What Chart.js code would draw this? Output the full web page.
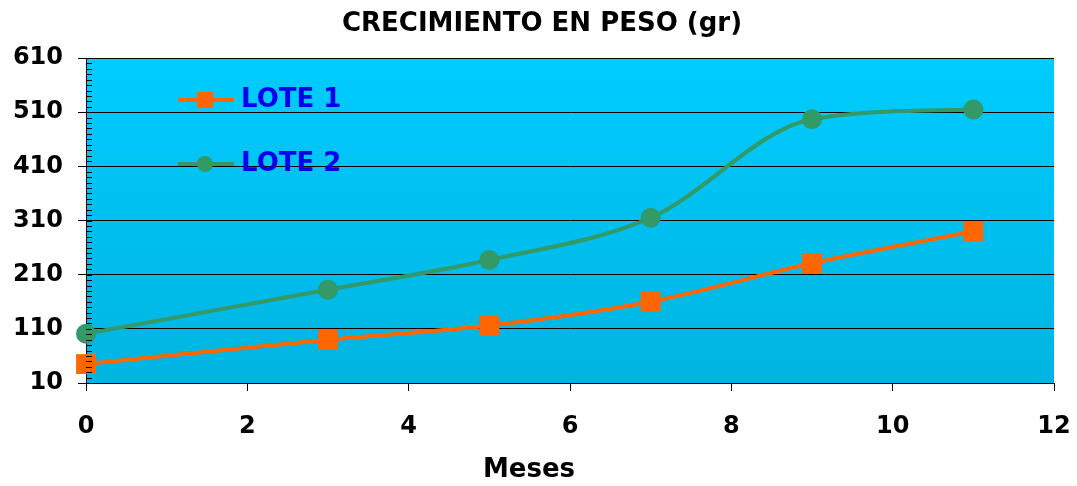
<!DOCTYPE html>
<html>
<head>
<meta charset="utf-8">
<title>Crecimiento en peso</title>
<script src="https://cdn.jsdelivr.net/npm/chart.js@4.4.1/dist/chart.umd.min.js"></script>
<style>
  html, body { margin: 0; padding: 0; background: #fff; }
  canvas { display: block; }
</style>
</head>
<body>
<canvas id="pesoChart" width="1077" height="486"></canvas>
<script>
const meses = [0, 3, 5, 7, 9, 11];
const lote1 = [45, 90, 116, 160, 231, 290];
const lote2 = [101, 182, 237, 315, 497, 515];
const yTicks = [10, 110, 210, 310, 410, 510, 610];
const xTicks = [0, 2, 4, 6, 8, 10, 12];
const chartTitle = 'CRECIMIENTO EN PESO (gr)';
const xTitle = 'Meses';

const FONT = 'DejaVu Sans, Verdana, sans-serif';

function toPoints(xs, ys) {
  return xs.map((x, i) => ({ x, y: ys[i] }));
}

// sky-blue gradient behind the plot
const plotBackground = {
  id: 'plotBackground',
  beforeDraw(chart) {
    const { ctx, chartArea: a } = chart;
    const g = ctx.createLinearGradient(0, a.top, 0, a.bottom);
    g.addColorStop(0, '#00ccff');
    g.addColorStop(1, '#00b4e0');
    ctx.save();
    ctx.fillStyle = g;
    ctx.fillRect(a.left, a.top, a.right - a.left, a.bottom - a.top);
    ctx.restore();
  }
};

// small inside ticks every 10 units on the value axis
const minorTicks = {
  id: 'minorTicks',
  afterDraw(chart) {
    const y = chart.scales.y;
    const { ctx } = chart;
    ctx.save();
    ctx.strokeStyle = '#000';
    ctx.lineWidth = 1;
    ctx.beginPath();
    for (let v = y.min; v <= y.max; v += 10) {
      const py = Math.round(y.getPixelForValue(v)) + 0.5;
      ctx.moveTo(y.right, py);
      ctx.lineTo(y.right + 6, py);
    }
    ctx.stroke();
    ctx.restore();
  }
};

// chart title and axis title, placed where the original had them
const chartTexts = {
  id: 'chartTexts',
  afterDraw(chart) {
    const { ctx } = chart;
    ctx.save();
    ctx.fillStyle = '#000';
    ctx.textAlign = 'center';
    ctx.textBaseline = 'middle';
    ctx.font = 'bold 26px ' + FONT;
    ctx.fillText(chartTitle, 542, 24);
    ctx.fillText(xTitle, 529, 470);
    ctx.restore();
  }
};

// legend inside the plot area, like the original
const innerLegend = {
  id: 'innerLegend',
  afterDatasetsDraw(chart) {
    const { ctx } = chart;
    const rows = [100, 164];
    ctx.save();
    chart.data.datasets.forEach((ds, i) => {
      const cy = rows[i];
      ctx.strokeStyle = ds.borderColor;
      ctx.lineWidth = 4;
      ctx.beginPath();
      ctx.moveTo(178, cy);
      ctx.lineTo(234, cy);
      ctx.stroke();
      ctx.fillStyle = ds.pointBackgroundColor;
      ctx.strokeStyle = ds.pointBackgroundColor;
      Chart.helpers.drawPoint(ctx, {
        pointStyle: ds.pointStyle,
        radius: ds.pointStyle === 'rect' ? 11.5 : 8,
        borderWidth: 0,
        rotation: 0
      }, 205, cy);
      ctx.fillStyle = '#0000ee';
      ctx.font = 'bold 26px ' + FONT;
      ctx.textBaseline = 'middle';
      ctx.textAlign = 'left';
      ctx.fillText(ds.label, 241, cy);
    });
    ctx.restore();
  }
};

new Chart(document.getElementById('pesoChart'), {
  type: 'line',
  data: {
    datasets: [
      {
        label: 'LOTE 1',
        data: toPoints(meses, lote1),
        borderColor: '#ff6600',
        backgroundColor: '#ff6600',
        pointBackgroundColor: '#ff6600',
        pointBorderColor: '#ff6600',
        pointBorderWidth: 0,
        borderWidth: 4,
        pointStyle: 'rect',
        pointRadius: 14,
        cubicInterpolationMode: 'monotone',
        clip: false,
        fill: false
      },
      {
        label: 'LOTE 2',
        data: toPoints(meses, lote2),
        borderColor: '#339966',
        backgroundColor: '#339966',
        pointBackgroundColor: '#339966',
        pointBorderColor: '#339966',
        pointBorderWidth: 0,
        borderWidth: 4,
        pointStyle: 'circle',
        pointRadius: 10,
        cubicInterpolationMode: 'monotone',
        clip: false,
        fill: false
      }
    ]
  },
  options: {
    responsive: false,
    animation: false,
    layout: { padding: { left: 0, right: 23, top: 58, bottom: 0 } },
    plugins: {
      legend: { display: false },
      tooltip: { enabled: false },
      title: { display: false }
    },
    scales: {
      x: {
        type: 'linear',
        min: 0,
        max: 12,
        afterFit: (s) => {
          s.height = 103;
          s.paddingLeft = 0;
          s.paddingRight = 0;
        },
        afterBuildTicks: (s) => { s.ticks = xTicks.map(v => ({ value: v })); },
        grid: { drawOnChartArea: false, drawTicks: true, tickLength: 8, color: '#000' },
        border: { display: true, color: '#000', width: 1 },
        ticks: {
          color: '#000',
          padding: 21,
          font: { family: FONT, size: 24, weight: 'bold' }
        }
      },
      y: {
        min: 10,
        max: 610,
        afterFit: (s) => { s.width = 86; },
        afterBuildTicks: (s) => { s.ticks = yTicks.map(v => ({ value: v })); },
        grid: { color: '#000', lineWidth: 1, tickLength: 8 },
        border: { display: true, color: '#000', width: 1 },
        ticks: {
          color: '#000',
          padding: 15,
          font: { family: FONT, size: 24, weight: 'bold' }
        }
      }
    }
  },
  plugins: [plotBackground, minorTicks, innerLegend, chartTexts]
});
</script>
</body>
</html>
